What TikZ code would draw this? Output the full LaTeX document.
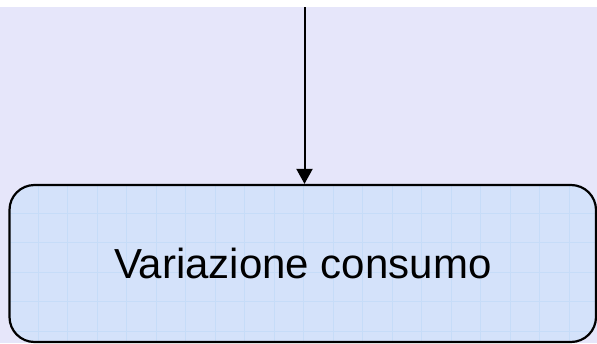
\documentclass[tikz,border=0pt]{standalone}
\usepackage{fontspec}
\setmainfont{Liberation Sans}
\usetikzlibrary{arrows.meta}
\definecolor{bglav}{HTML}{E6E6FA}
\definecolor{boxblue}{HTML}{D4E2FA}
\definecolor{gridblue}{HTML}{C6DCF8}

\begin{document}
\begin{tikzpicture}[x=1pt,y=-1pt,>={Triangle[length=15pt,width=16pt]},
  state node/.style={draw,line width=2.2pt,rounded corners=25pt,fill=boxblue,
    minimum width=586.5pt,minimum height=157pt,inner sep=0pt,
    font=\fontsize{42}{50}\selectfont},
  flow/.style={->,line width=2pt},
  grid line/.style={gridblue,line width=0.8pt}]

  \useasboundingbox (0,0) rectangle (597,343);
  \fill[white] (0,0) rectangle (597,343);
  \fill[bglav] (0,7) rectangle (597,343);

  \coordinate (src) at (304.5,7);
  \node[state node, path picture={
      \foreach \gx in {28.5,58,...,590}
        \draw[grid line] ([xshift=\gx pt]path picture bounding box.north west)
          -- ([xshift=\gx pt]path picture bounding box.south west);
      \foreach \gy in {28,57.5,...,157}
        \draw[grid line] ([yshift=-\gy pt]path picture bounding box.north west)
          -- ([yshift=-\gy pt]path picture bounding box.north east);
    }] (consumo) at (302.75,263.5)
    {Variazione consumo};

  \path[flow]
    (src) edge (consumo.north -| src);

\end{tikzpicture}
\end{document}
